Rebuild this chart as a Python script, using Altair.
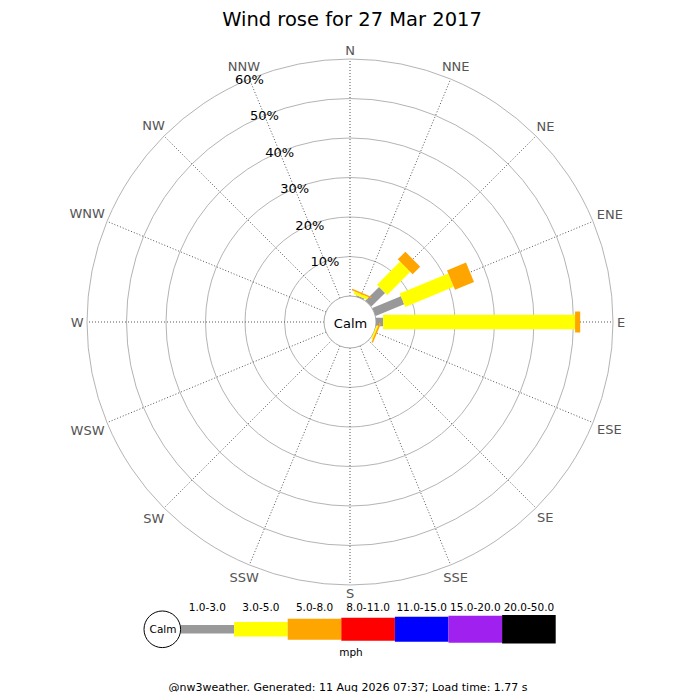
import math
import altair as alt
import pandas as pd

# ---------------- data ----------------
directions = ["N", "NNE", "NE", "ENE", "E", "ESE", "SE", "SSE",
              "S", "SSW", "SW", "WSW", "W", "WNW", "NW", "NNW"]
speed_classes = ["1.0-3.0", "3.0-5.0", "5.0-8.0", "8.0-11.0",
                 "11.0-15.0", "15.0-20.0", "20.0-50.0"]
# % of time from each direction, per speed class (mph)
freq_1_3 = [0, 0.3, 4.9, 7.8, 1.8, 0.0, 0, 0, 0, 0, 0, 0, 0, 0, 0, 0]
freq_3_5 = [0, 0.7, 8.3, 13.3, 48.6, 0.4, 0, 0, 0, 0, 0, 0, 0, 0, 0, 0]
freq_5_8 = [0, 0.4, 2.7, 5.2, 1.3, 0.4, 0, 0, 0, 0, 0, 0, 0, 0, 0, 0]
freq_8_11 = [0, 0, 0, 0, 0, 0, 0, 0, 0, 0, 0, 0, 0, 0, 0, 0]
freq_11_15 = [0, 0, 0, 0, 0, 0, 0, 0, 0, 0, 0, 0, 0, 0, 0, 0]
freq_15_20 = [0, 0, 0, 0, 0, 0, 0, 0, 0, 0, 0, 0, 0, 0, 0, 0]
freq_20_50 = [0, 0, 0, 0, 0, 0, 0, 0, 0, 0, 0, 0, 0, 0, 0, 0]
ring_levels = [10, 20, 30, 40, 50, 60]
ring_labels = ["10%", "20%", "30%", "40%", "50%", "60%"]
title_text = "Wind rose for 27 Mar 2017"
calm_label = "Calm"
unit_label = "mph"
footer_text = "@nw3weather. Generated: 11 Aug 2026 07:37; Load time: 1.77 s"

# ---------------- styles ----------------
class_colors = ["#999999", "#ffff00", "#ffa500", "#ff0000", "#0000ff", "#a020f0", "#000000"]
class_widths = [8.5, 14.5, 21, 23, 25, 27, 28.5]
FONT = "DejaVu Sans"

# ---------------- layout ----------------
W = H = 684
PX = 3.95                 # pixels per percent
CX, CY = 342, 314         # rose centre in plot pixels
CALM = 26 / PX            # calm circle radius in percent units
OUTER = CALM + max(ring_levels)

def ux(page_x):
    return (page_x - 8 - CX) / PX

def uy(page_y):
    return (CY - (page_y - 8)) / PX

xs = alt.Scale(domain=[-CX / PX, (W - CX) / PX], nice=False, zero=False)
ys = alt.Scale(domain=[-(H - CY) / PX, CY / PX], nice=False, zero=False)
rs = alt.Scale(type="linear", domain=[0, 100], range=[0, 100 * PX], zero=True, nice=False)
cs = alt.Scale(domain=speed_classes, range=class_colors)
ws = alt.Scale(type="ordinal", domain=speed_classes, range=class_widths)

# ---------------- tables ----------------
series = [freq_1_3, freq_3_5, freq_5_8, freq_8_11, freq_11_15, freq_15_20, freq_20_50]
rows = []
for ci, (cls, vals) in enumerate(zip(speed_classes, series)):
    for di, d in enumerate(directions):
        rows.append({"dir": d, "dir_idx": di, "cls": cls, "cls_idx": ci, "pct": vals[di]})
bar_df = pd.DataFrame(rows)
dir_df = pd.DataFrame({"d": directions, "idx": list(range(len(directions)))})
ring_df = pd.DataFrame({"level": ring_levels, "label": ring_labels})
leg_df = pd.DataFrame({"cls": speed_classes, "idx": list(range(len(speed_classes)))})

# ---------------- layers ----------------
rings = alt.Chart(ring_df).transform_calculate(
    r=f"{CALM} + datum.level"
).mark_arc(theta=0, theta2=2 * math.pi, fillOpacity=0, stroke="#b4b4b4", strokeWidth=1).encode(
    x=alt.XDatum(0, type="quantitative", scale=xs, axis=None),
    y=alt.YDatum(0, type="quantitative", scale=ys, axis=None),
    radius=alt.Radius("r:Q", scale=rs, stack=None),
)

spokes = alt.Chart(dir_df).transform_calculate(
    a="datum.idx * PI / 8"
).transform_calculate(
    sx0=f"{CALM} * sin(datum.a)", sy0=f"{CALM} * cos(datum.a)",
    sx1=f"{OUTER} * sin(datum.a)", sy1=f"{OUTER} * cos(datum.a)",
).mark_rule(color="#555555", strokeWidth=1, strokeDash=[1, 2]).encode(
    x=alt.X("sx0:Q", scale=xs, axis=None),
    y=alt.Y("sy0:Q", scale=ys, axis=None),
    x2="sx1:Q", y2="sy1:Q",
)

calm_circle = alt.Chart(pd.DataFrame({"r": [CALM]})).mark_arc(
    theta=0, theta2=2 * math.pi, fill="white", stroke="#aaaaaa", strokeWidth=1
).encode(
    x=alt.XDatum(0, type="quantitative", scale=xs, axis=None),
    y=alt.YDatum(0, type="quantitative", scale=ys, axis=None),
    radius=alt.Radius("r:Q", scale=rs, stack=None),
)

bars = alt.Chart(bar_df).transform_window(
    cum="sum(pct)", groupby=["dir"], sort=[alt.SortField("cls_idx", order="ascending")]
).transform_filter("datum.pct > 0").transform_calculate(
    a="datum.dir_idx * PI / 8",
    r0=f"{CALM} + datum.cum - datum.pct",
    r1=f"{CALM} + datum.cum",
).transform_calculate(
    bx0="datum.r0 * sin(datum.a)", by0="datum.r0 * cos(datum.a)",
    bx1="datum.r1 * sin(datum.a)", by1="datum.r1 * cos(datum.a)",
).mark_rule(strokeCap="butt").encode(
    x=alt.X("bx0:Q", scale=xs, axis=None),
    y=alt.Y("by0:Q", scale=ys, axis=None),
    x2="bx1:Q", y2="by1:Q",
    color=alt.Color("cls:N", scale=cs, legend=None),
    strokeWidth=alt.StrokeWidth("cls:N", scale=ws, legend=None),
    order=alt.Order("cls_idx:Q"),
)

dir_labels = alt.Chart(dir_df).transform_calculate(
    a="datum.idx * PI / 8",
    nw="length(replace(datum.d, regexp('[^W]', 'g'), ''))",
    ns="length(replace(datum.d, regexp('[^S]', 'g'), ''))",
).transform_calculate(
    w="9.3 * length(datum.d) + 3.6 * datum.nw - 1.0 * datum.ns",
).transform_calculate(
    u=f"(266.5 + abs(sin(datum.a)) * datum.w / 2 + abs(cos(datum.a)) * 4.75) / {PX}",
).transform_calculate(
    lx="datum.u * sin(datum.a)", ly="datum.u * cos(datum.a)",
).mark_text(font=FONT, fontSize=13, color="#555555", align="center",
            baseline="alphabetic", dy=4.7).encode(
    x=alt.X("lx:Q", scale=xs, axis=None),
    y=alt.Y("ly:Q", scale=ys, axis=None),
    text="d:N",
)

pct_labels = alt.Chart(ring_df).transform_calculate(
    a="15 * PI / 8", u=f"{CALM} + datum.level",
).transform_calculate(
    px_="datum.u * sin(datum.a)", py_="datum.u * cos(datum.a)",
).mark_text(font=FONT, fontSize=13, color="#000000", align="center",
            baseline="alphabetic", dy=4.7).encode(
    x=alt.X("px_:Q", scale=xs, axis=None),
    y=alt.Y("py_:Q", scale=ys, axis=None),
    text="label:N",
)

calm_text = alt.Chart(pd.DataFrame({"t": [calm_label]})).mark_text(
    font=FONT, fontSize=13, color="#000000", align="center", baseline="alphabetic"
).encode(
    x=alt.XDatum(ux(350.5), type="quantitative", scale=xs, axis=None),
    y=alt.YDatum(uy(328.3), type="quantitative", scale=ys, axis=None),
    text="t:N",
)

title = alt.Chart(pd.DataFrame({"t": [title_text]})).mark_text(
    font=FONT, fontSize=19.5, color="#000000", align="center", baseline="alphabetic"
).encode(
    x=alt.XDatum(ux(352), type="quantitative", scale=xs, axis=None),
    y=alt.YDatum(uy(26), type="quantitative", scale=ys, axis=None),
    text="t:N",
)

# ---------------- legend ----------------
LX0 = ux(180.5)
LSTEP = 53.6 / PX
LY = uy(629.3)

leg_bars = alt.Chart(leg_df).transform_calculate(
    lx0=f"{LX0} + datum.idx * {LSTEP}",
    lx1=f"{LX0} + (datum.idx + 1) * {LSTEP}",
    ly=f"{LY}",
).mark_rule(strokeCap="butt").encode(
    x=alt.X("lx0:Q", scale=xs, axis=None),
    y=alt.Y("ly:Q", scale=ys, axis=None),
    x2="lx1:Q",
    color=alt.Color("cls:N", scale=cs, legend=None),
    strokeWidth=alt.StrokeWidth("cls:N", scale=ws, legend=None),
)

leg_text = alt.Chart(leg_df).transform_calculate(
    lxm=f"{LX0} + (datum.idx + 0.5) * {LSTEP}",
    lty=f"{uy(610.7)}",
).mark_text(font=FONT, fontSize=10.5, color="#000000", align="center",
            baseline="alphabetic").encode(
    x=alt.X("lxm:Q", scale=xs, axis=None),
    y=alt.Y("lty:Q", scale=ys, axis=None),
    text="cls:N",
)

leg_calm = alt.Chart(pd.DataFrame({"r": [18.3 / PX]})).mark_arc(
    theta=0, theta2=2 * math.pi, fill="white", stroke="#000000", strokeWidth=1
).encode(
    x=alt.XDatum(ux(162.3), type="quantitative", scale=xs, axis=None),
    y=alt.YDatum(uy(629.3), type="quantitative", scale=ys, axis=None),
    radius=alt.Radius("r:Q", scale=rs, stack=None),
)

leg_calm_text = alt.Chart(pd.DataFrame({"t": [calm_label]})).mark_text(
    font=FONT, fontSize=10.5, color="#000000", align="center", baseline="alphabetic"
).encode(
    x=alt.XDatum(ux(163), type="quantitative", scale=xs, axis=None),
    y=alt.YDatum(uy(633.3), type="quantitative", scale=ys, axis=None),
    text="t:N",
)

unit_text = alt.Chart(pd.DataFrame({"t": [unit_label]})).mark_text(
    font=FONT, fontSize=10.5, color="#000000", align="center", baseline="alphabetic"
).encode(
    x=alt.XDatum(ux(351), type="quantitative", scale=xs, axis=None),
    y=alt.YDatum(uy(655.7), type="quantitative", scale=ys, axis=None),
    text="t:N",
)

footer = alt.Chart(pd.DataFrame({"t": [footer_text]})).mark_text(
    font=FONT, fontSize=11, color="#000000", align="center", baseline="alphabetic"
).encode(
    x=alt.XDatum(ux(348), type="quantitative", scale=xs, axis=None),
    y=alt.YDatum(uy(690.5), type="quantitative", scale=ys, axis=None),
    text="t:N",
)

chart = alt.layer(
    rings, spokes, calm_circle, bars, dir_labels, pct_labels, calm_text, title,
    leg_bars, leg_calm, leg_calm_text, leg_text, unit_text, footer,
).properties(
    width=W, height=H, padding=0,
    autosize=alt.AutoSizeParams(type="none"),
    background="white",
).configure_view(stroke=None)

chart.save("out.html", embed_options={"renderer": "svg", "actions": False})
